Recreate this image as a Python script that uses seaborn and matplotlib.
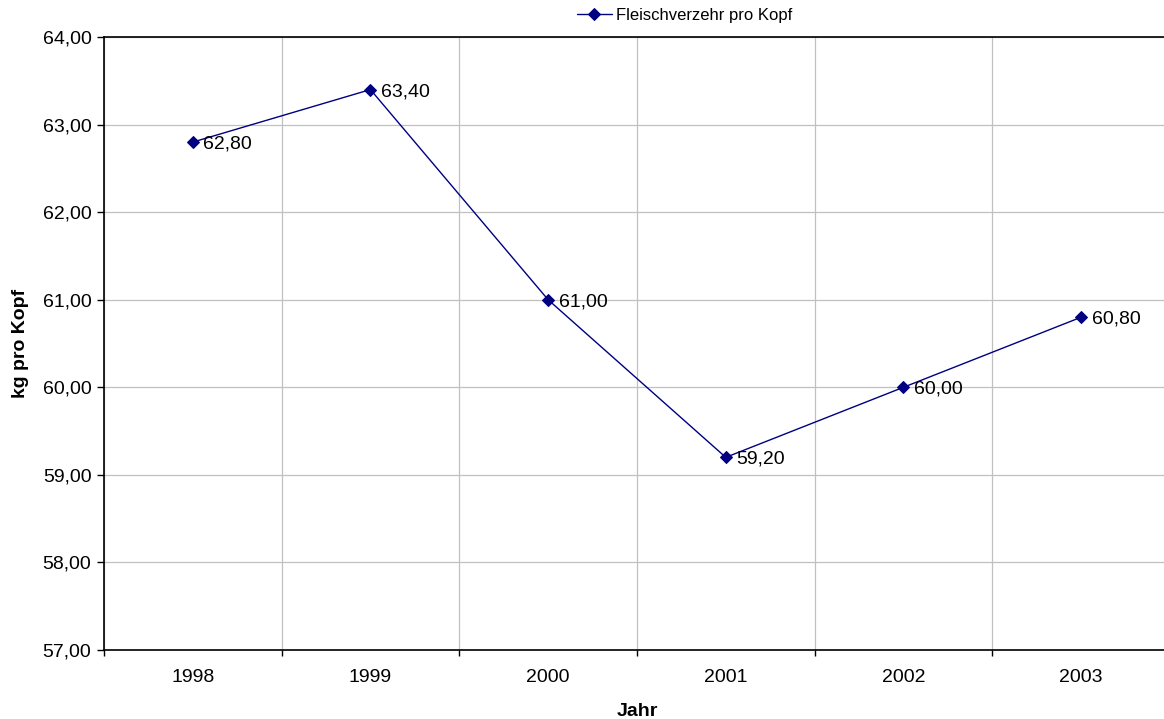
import numpy as np
import pandas as pd
import matplotlib
matplotlib.use('Agg')
import matplotlib.pyplot as plt
import seaborn as sns
from matplotlib.ticker import FuncFormatter, FixedLocator

years = ['1998', '1999', '2000', '2001', '2002', '2003']
verzehr = [62.8, 63.4, 61.0, 59.2, 60.0, 60.8]
series_name = 'Fleischverzehr pro Kopf'

sns.set_style('white')
plt.rcParams['font.family'] = ['Liberation Sans', 'DejaVu Sans']
plt.rcParams['text.color'] = 'black'
plt.rcParams['axes.labelcolor'] = 'black'
plt.rcParams['xtick.color'] = 'black'
plt.rcParams['ytick.color'] = 'black'

df = pd.DataFrame({'Jahr': years, 'kg': verzehr})
df['pos'] = np.arange(len(years))

fig = plt.figure(figsize=(11.64, 7.19), dpi=100)
# the plot area runs a bit past the right edge, like in the original
ax = fig.add_axes([0.0893, 0.096, 0.9158, 0.8525])

sns.lineplot(data=df, x='pos', y='kg', ax=ax, color='#000080', marker='D',
             markersize=6, markeredgecolor='#000080', linewidth=1.0,
             label=series_name)

for xp, v in zip(df['pos'], df['kg']):
    ax.annotate('{:.2f}'.format(v).replace('.', ','), (xp, v), xytext=(7.5, 0),
                textcoords='offset points', va='center_baseline', ha='left', fontsize=14)

ax.set_xlim(-0.5, len(years) - 0.5)
ax.set_ylim(57, 64)
ax.set_yticks(np.arange(57, 64.01, 1))
ax.yaxis.set_major_formatter(FuncFormatter(lambda v, p: '{:.2f}'.format(v).replace('.', ',')))
ax.set_xticks(df['pos'])
ax.set_xticklabels(years)
ax.xaxis.set_minor_locator(FixedLocator(np.arange(-0.5, len(years), 1)))
ax.tick_params(axis='x', which='major', length=0, labelsize=14, pad=14)
ax.tick_params(axis='x', which='minor', length=4.5, width=1, direction='out', bottom=True)
ax.tick_params(axis='y', which='major', length=5, width=1, direction='out', labelsize=14, pad=4, left=True)

ax.grid(axis='y', which='major', color='#c0c0c0', linewidth=0.9)
ax.grid(axis='x', which='minor', color='#c0c0c0', linewidth=0.9)
ax.set_axisbelow(True)

ax.spines['right'].set_visible(False)
for s in ['left', 'bottom', 'top']:
    ax.spines[s].set_color('black')
    ax.spines[s].set_linewidth(1.2)

ax.set_xlabel('Jahr', fontsize=14, fontweight='bold', labelpad=12)
ax.set_ylabel('kg pro Kopf', fontsize=14, fontweight='bold', labelpad=10)

ax.legend(loc='center', bbox_to_anchor=(0.588, 0.978), bbox_transform=fig.transFigure,
          frameon=False, fontsize=12, handlelength=2.1, handletextpad=0.25)

fig.savefig('out.png', dpi=100)
